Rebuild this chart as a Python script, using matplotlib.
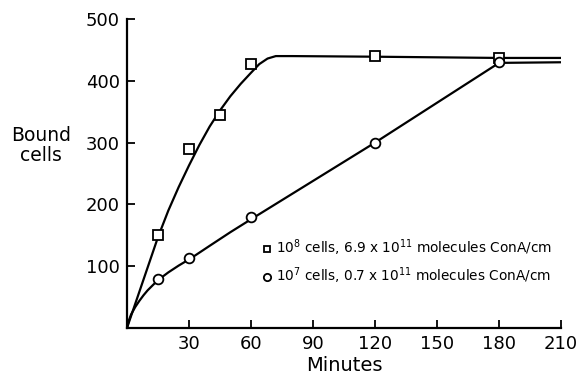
import numpy as np
import matplotlib
matplotlib.use('Agg')
import matplotlib.pyplot as plt

plt.rcParams['font.family'] = ['DejaVu Sans']
plt.rcParams['mathtext.fontset'] = 'dejavusans'

# measured points (minutes, bound cells)
sq_t = [15, 30, 45, 60, 120, 180]
sq_y = [150, 290, 345, 428, 440, 437]
ci_t = [15, 30, 60, 120, 180]
ci_y = [80, 114, 179, 300, 430]

# hand drawn curves
sq_fit_t = [0, 5, 10, 15, 20, 25, 30, 35, 40, 45, 50, 55, 60, 64, 68, 72, 80, 120, 180, 210]
sq_fit_y = [0, 49, 98, 147, 190, 228, 263, 296, 326, 352, 375, 395, 413, 427, 436, 440, 440,
            439, 437, 437]
ci_fit_t = [0, 1, 2, 4, 6, 8, 10, 13, 16, 20, 25, 31, 40, 50, 61, 120, 180, 210]
ci_fit_y = [0, 13, 22, 34, 44, 53, 61, 71, 80, 90, 101, 113, 133, 155, 178, 300, 429, 430]

xticks = [30, 60, 90, 120, 150, 180, 210]
yticks = [100, 200, 300, 400, 500]

lab1 = r'$10^8$ cells, 6.9 x $10^{11}$ molecules ConA/cm'
lab2 = r'$10^7$ cells, 0.7 x $10^{11}$ molecules ConA/cm'

fs = 13
lw = 1.6

fig = plt.figure(figsize=(5.79, 3.84), dpi=100)
ax = fig.add_axes([0.2193, 0.1458, 0.7497, 0.8047])

ax.plot(sq_fit_t, sq_fit_y, color='k', linewidth=lw, zorder=1)
ax.plot(ci_fit_t, ci_fit_y, color='k', linewidth=lw, zorder=1)
h1, = ax.plot(sq_t, sq_y, linestyle='none', marker='s', markersize=6.5,
              markerfacecolor='white', markeredgecolor='k', markeredgewidth=1.3, zorder=3)
h2, = ax.plot(ci_t, ci_y, linestyle='none', marker='o', markersize=7,
              markerfacecolor='white', markeredgecolor='k', markeredgewidth=1.3, zorder=3)

ax.set_xlim(0, 210)
ax.set_ylim(0, 500)
ax.set_xticks(xticks)
ax.set_yticks(yticks)
ax.tick_params(axis='both', direction='in', length=6, width=1.3, labelsize=fs, pad=5)
for s in ['top', 'right']:
    ax.spines[s].set_visible(False)
for s in ['left', 'bottom']:
    ax.spines[s].set_linewidth(1.6)

ax.set_xlabel('Minutes', fontsize=14, labelpad=2)
ax.set_ylabel('Bound\ncells', fontsize=13.5, rotation=0, ha='center', va='center',
              linespacing=1.1)
ax.yaxis.set_label_coords(-0.198, 0.59)

leg = ax.legend([h1, h2], [lab1, lab2], loc='upper left', bbox_to_anchor=(0.3, 0.31),
                frameon=False, fontsize=9.8, handlelength=0.6, handletextpad=0.4,
                labelspacing=0.55, markerscale=0.75, borderaxespad=0)

fig.savefig('out.png', dpi=100)
